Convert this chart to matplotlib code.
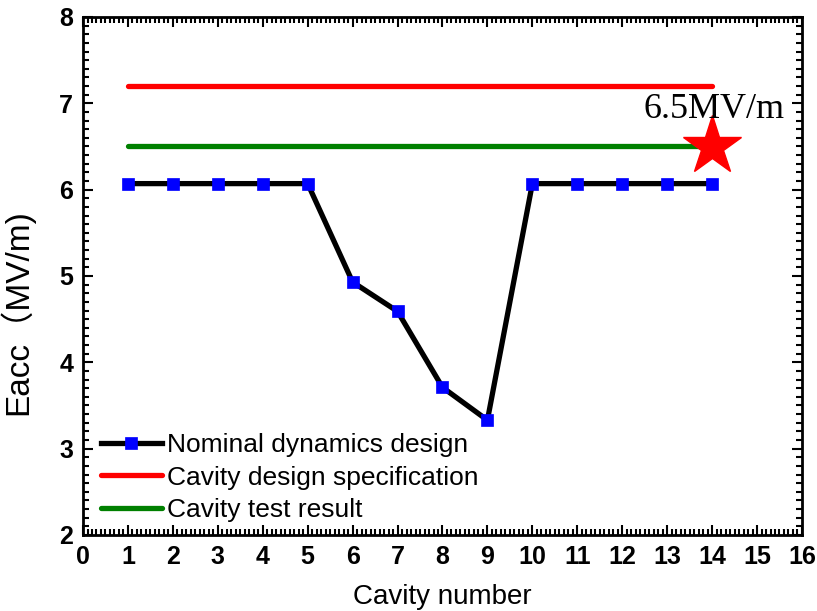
import numpy as np
import matplotlib
matplotlib.use("Agg")
import matplotlib.pyplot as plt
from matplotlib.ticker import MultipleLocator

# Campo acelerador por cavidade
cavidades = [1, 2, 3, 4, 5, 6, 7, 8, 9, 10, 11, 12, 13, 14]
eacc_nominal = [6.07, 6.07, 6.07, 6.07, 6.07, 4.93, 4.59, 3.71, 3.33, 6.07, 6.07, 6.07, 6.07, 6.07]
eacc_especificacao = 7.2
eacc_teste = 6.5
cavidade_estrela = 14
texto_estrela = "6.5MV/m"

plt.rcParams["font.family"] = ["Liberation Sans", "Noto Sans CJK SC", "DejaVu Sans"]

fig = plt.figure(figsize=(8.17, 6.11), dpi=100)
ax = fig.add_axes([0.1016, 0.1244, 0.88, 0.8478])

x_linha = [cavidades[0], cavidades[-1]]
ax.plot(cavidades, eacc_nominal, color="black", lw=3.8, marker="s", ms=8.5,
        mfc="blue", mec="blue", mew=0.5, label="Nominal dynamics design", zorder=3)
ax.plot(x_linha, [eacc_especificacao] * 2, color="red", lw=3.8,
        solid_capstyle="round", label="Cavity design specification")
ax.plot(x_linha, [eacc_teste] * 2, color="green", lw=3.8,
        solid_capstyle="round", label="Cavity test result")

# Estrela no valor de teste
ax.plot([cavidade_estrela], [eacc_teste], marker="*", ms=44, color="red", mec="red", zorder=4)
ax.text(cavidade_estrela + 0.05, eacc_teste + 0.43, texto_estrela, family="Liberation Serif",
        fontsize=26, ha="center", va="center", zorder=5)

ax.set_xlim(0, 16)
ax.set_ylim(2, 8)
ax.xaxis.set_major_locator(MultipleLocator(1))
ax.xaxis.set_minor_locator(MultipleLocator(0.1))
ax.yaxis.set_major_locator(MultipleLocator(1))
ax.yaxis.set_minor_locator(MultipleLocator(0.1))
ax.tick_params(which="both", direction="in", top=True, right=True, width=1.5)
ax.tick_params(which="major", length=7, labelsize=18, pad=7)
ax.tick_params(which="minor", length=4)
for lab in ax.get_xticklabels() + ax.get_yticklabels():
    lab.set_fontweight("bold")
for sp in ax.spines.values():
    sp.set_linewidth(2)

ax.set_xlabel("Cavity number", fontsize=20, labelpad=11)
ax.set_ylabel("Eacc（MV/m)", fontsize=24)
ax.yaxis.set_label_coords(-0.068, 0.43)

ax.legend(loc="lower left", bbox_to_anchor=(0.0103, 0.004), frameon=False, fontsize=19,
          handlelength=2.3, handletextpad=0.2, labelspacing=0.33, borderaxespad=0)

fig.savefig("out.png", dpi=100)
